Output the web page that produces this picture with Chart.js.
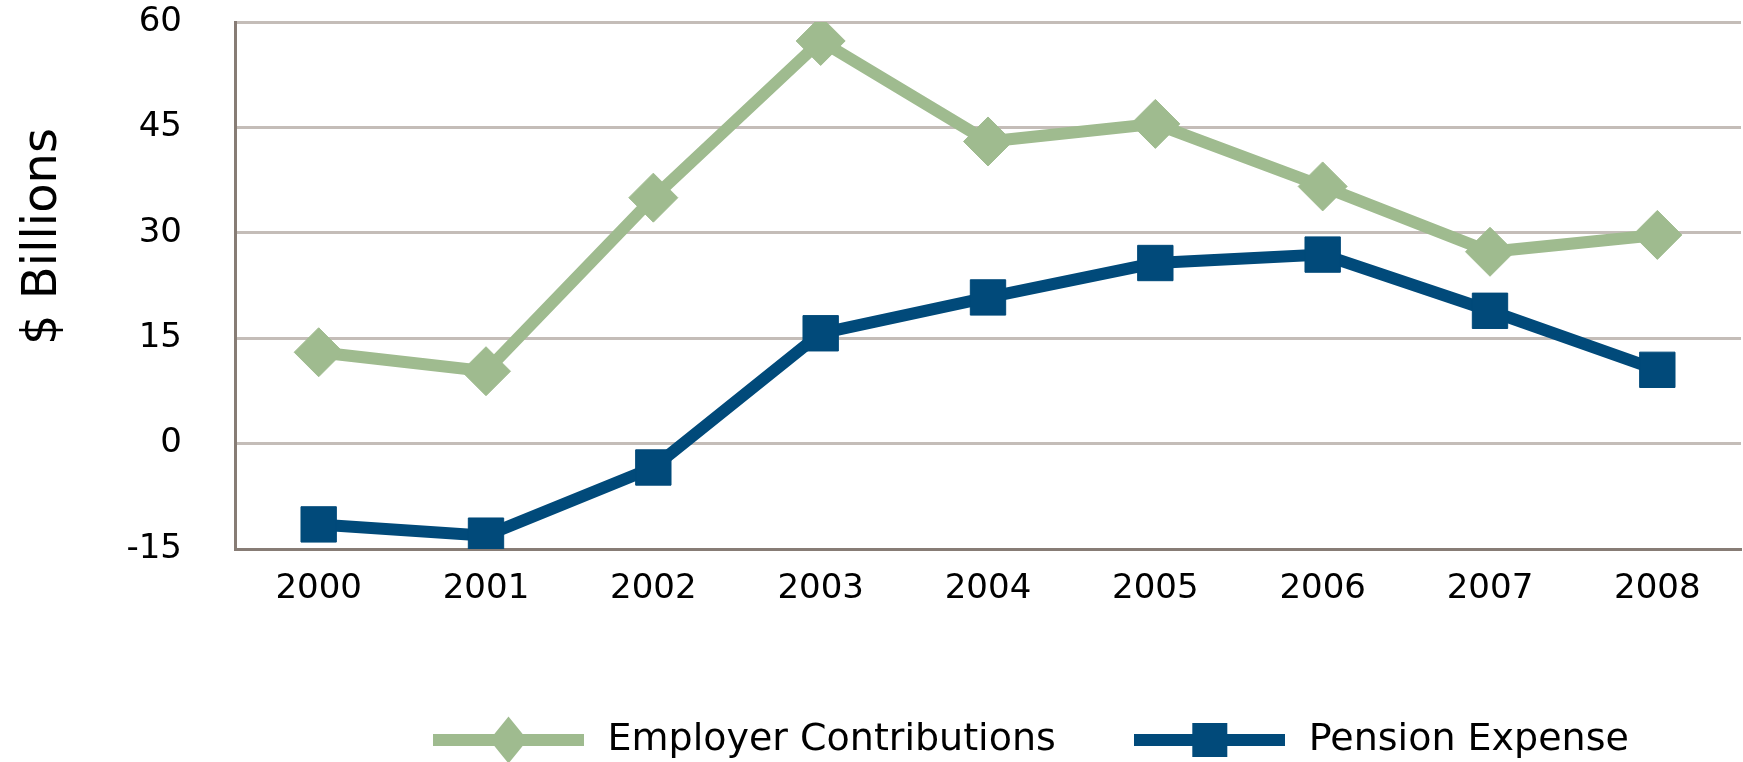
<!DOCTYPE html>
<html>
<head>
<meta charset="utf-8">
<script src="https://cdn.jsdelivr.net/npm/chart.js@4"></script>
<style>
  html, body { margin: 0; padding: 0; background: #fff; }
  #wrap { width: 1743px; height: 762px; }
</style>
</head>
<body>
<div id="wrap"><canvas id="pensionChart" width="1743" height="762"></canvas></div>
<script>
const years = ['2000', '2001', '2002', '2003', '2004', '2005', '2006', '2007', '2008'];
const employerContributions = [13, 10.3, 35, 57.3, 43, 45.5, 36.6, 27.3, 29.7];
const pensionExpense = [-11.5, -13.1, -3.4, 15.7, 20.8, 25.7, 26.9, 18.9, 10.5];
const yTicks = [-15, 0, 15, 30, 45, 60];

const green = '#9fbb8f';
const blue = '#014a7a';
const gridColor = '#c4bdb8';
const axisColor = '#877c75';
const fontFamily = '"DejaVu Sans", sans-serif';

// legend swatch: a line with the marker in the middle
function legendSwatch(color, shape) {
  const c = document.createElement('canvas');
  c.width = 151;
  c.height = 50;
  const g = c.getContext('2d');
  g.fillStyle = color;
  g.fillRect(0, 19, 151, 12);
  g.beginPath();
  if (shape === 'diamond') {
    g.moveTo(75.5, 1.5);
    g.lineTo(94.5, 25);
    g.lineTo(75.5, 48.5);
    g.lineTo(56.5, 25);
  } else {
    g.rect(58, 8, 35, 34);
  }
  g.closePath();
  g.fill();
  return c;
}
const swatches = [legendSwatch(green, 'diamond'), legendSwatch(blue, 'square')];

// y axis title sits above the middle of the axis, so draw it ourselves
const yTitle = {
  id: 'yTitle',
  afterDraw(chart) {
    const ctx = chart.ctx;
    ctx.save();
    ctx.translate(56, 236.5);
    ctx.rotate(-Math.PI / 2);
    ctx.font = '48px ' + fontFamily;
    ctx.fillStyle = '#000';
    ctx.textAlign = 'center';
    ctx.textBaseline = 'alphabetic';
    ctx.fillText('$ Billions', 0, 0);
    ctx.restore();
  }
};

// push the legend row to where the reference has it
const legendPlace = {
  id: 'legendPlace',
  afterLayout(chart) {
    const lg = chart.legend;
    lg.left = 428.5 - 74;
    lg.top += 7;
    lg.bottom += 7;
  }
};

new Chart(document.getElementById('pensionChart').getContext('2d'), {
  type: 'line',
  data: {
    labels: years,
    datasets: [
      {
        label: 'Employer Contributions',
        data: employerContributions,
        borderColor: green,
        backgroundColor: green,
        borderWidth: 12,
        pointStyle: 'rectRot',
        pointRadius: 24.5,
        pointBorderWidth: 1,
        pointBackgroundColor: green,
        pointBorderColor: green,
        tension: 0
      },
      {
        label: 'Pension Expense',
        data: pensionExpense,
        borderColor: blue,
        backgroundColor: blue,
        borderWidth: 12,
        pointStyle: 'rect',
        pointRadius: 25,
        pointBorderWidth: 1,
        pointBackgroundColor: blue,
        pointBorderColor: blue,
        tension: 0
      }
    ]
  },
  options: {
    responsive: false,
    animation: false,
    layout: { autoPadding: false, padding: { top: 22, right: 2, left: 0, bottom: 0 } },
    scales: {
      x: {
        offset: true,
        grid: { display: false, drawTicks: false },
        border: { display: true, color: axisColor, width: 3 },
        ticks: { color: '#000', font: { family: fontFamily, size: 34 }, padding: 20, maxRotation: 0 },
        afterFit(scale) { scale.height = 91; }
      },
      y: {
        min: -15,
        max: 60,
        grid: { color: gridColor, lineWidth: 3, drawTicks: false },
        border: { display: true, color: axisColor, width: 3 },
        afterBuildTicks(scale) { scale.ticks = yTicks.map(v => ({ value: v })); },
        ticks: { color: '#000', font: { family: fontFamily, size: 34 }, padding: 53 },
        afterFit(scale) {
          scale.width = 235;
          scale.paddingTop = 0;
          scale.paddingBottom = 0;
        }
      }
    },
    plugins: {
      tooltip: { enabled: false },
      legend: {
        position: 'bottom',
        align: 'start',
        labels: {
          usePointStyle: true,
          pointStyleWidth: 160,
          padding: 74,
          color: '#000',
          font: { family: fontFamily, size: 38 },
          generateLabels(chart) {
            const items = Chart.defaults.plugins.legend.labels.generateLabels(chart);
            items.forEach((it, i) => { it.pointStyle = swatches[i]; it.rotation = 0; });
            return items;
          }
        }
      }
    }
  },
  plugins: [yTitle, legendPlace]
});
</script>
</body>
</html>
